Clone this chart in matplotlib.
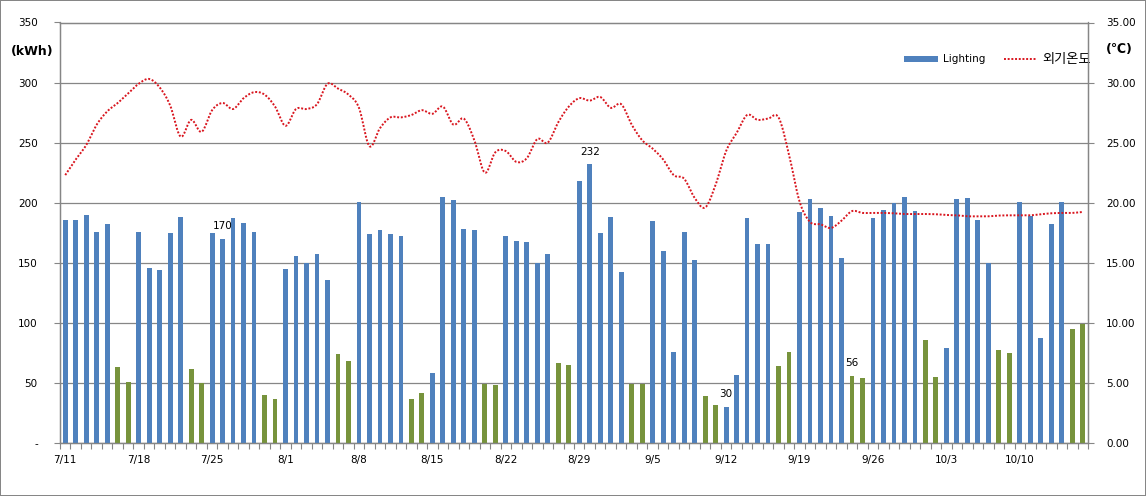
import numpy as np
import pandas as pd
import matplotlib.pyplot as plt
from matplotlib.patches import Patch
from matplotlib.lines import Line2D

# daily data 2011-07-11 .. 2011-10-16
dates = pd.date_range('2011-07-11', '2011-10-16', freq='D')

lighting = [
    186, 186, 190, 176, 182, 63, 51,    # 7/11-7/17
    176, 146, 144, 175, 188, 62, 50,    # 7/18-7/24
    175, 170, 187, 183, 176, 40, 37,    # 7/25-7/31
    145, 156, 150, 157, 136, 74, 68,    # 8/1-8/7
    201, 174, 177, 174, 172, 37, 42,    # 8/8-8/14
    58, 205, 202, 178, 177, 49, 48,     # 8/15-8/21
    172, 168, 167, 150, 157, 67, 65,    # 8/22-8/28
    218, 232, 175, 188, 142, 49, 49,    # 8/29-9/4
    185, 160, 76, 176, 152, 39, 32,     # 9/5-9/11
    30, 57, 187, 166, 166, 64, 76,      # 9/12-9/18
    192, 203, 196, 189, 154, 56, 54,    # 9/19-9/25
    187, 194, 200, 205, 193, 86, 55,    # 9/26-10/2
    79, 203, 204, 186, 150, 77, 75,     # 10/3-10/9
    201, 189, 87, 182, 201, 95, 99,     # 10/10-10/16
]

temp = [
    22.3, 23.6, 24.8, 26.5, 27.6, 28.3, 29.1, 29.9, 30.3, 29.6, 28.1, 25.5, 26.9, 25.9,
    27.7, 28.3, 27.8, 28.7, 29.2, 29.0, 28.0, 26.4, 27.8, 27.8, 28.2, 29.9, 29.5, 29.0,
    27.9, 24.7, 26.2, 27.1, 27.1, 27.3, 27.7, 27.4, 28.0, 26.5, 27.0, 25.2, 22.5, 24.2,
    24.3, 23.4, 23.7, 25.3, 25.0, 26.7, 28.0, 28.7, 28.5, 28.8, 27.9, 28.2, 26.5, 25.2,
    24.5, 23.6, 22.3, 22.0, 20.4, 19.6, 21.5, 24.3, 25.8, 27.3, 26.9, 27.0, 27.1, 24.0,
    20.1, 18.4, 18.2, 17.9, 18.5, 19.3, 19.15, 19.15, 19.15, 19.12, 19.06, 19.06, 19.06,
    19.04, 18.98, 18.95, 18.87, 18.87, 18.87, 18.93, 18.95, 18.95, 18.95, 19.04, 19.12,
    19.15, 19.15, 19.23,
]

labelled = ['2011-07-26', '2011-08-30', '2011-09-12', '2011-09-24']

left_ticks = [0, 50, 100, 150, 200, 250, 300, 350]
left_ticklabels = ['-', '50', '100', '150', '200', '250', '300', '350']
right_ticks = [0, 5, 10, 15, 20, 25, 30, 35]

blue = '#4F81BD'
green = '#77933C'
red = '#D9161F'
grid_col = '#868686'


def smooth(x, y, n=12):
    # Excel style smoothed line (bezier through points)
    x = np.asarray(x, float)
    y = np.asarray(y, float)
    px = np.concatenate([[x[0]], x, [x[-1]]])
    py = np.concatenate([[y[0]], y, [y[-1]]])
    t = np.linspace(0, 1, n, endpoint=False)[:, None]
    out_x, out_y = [], []
    for i in range(len(x) - 1):
        for p, out in ((px, out_x), (py, out_y)):
            p0, p1, p2, p3 = p[i], p[i + 1], p[i + 2], p[i + 3]
            c1 = p1 + (p2 - p0) / 6
            c2 = p2 - (p3 - p1) / 6
            b = ((1 - t) ** 3 * p1 + 3 * (1 - t) ** 2 * t * c1
                 + 3 * (1 - t) * t ** 2 * c2 + t ** 3 * p2)
            out.extend(b.ravel())
    out_x.append(x[-1])
    out_y.append(y[-1])
    return np.array(out_x), np.array(out_y)


plt.rcParams['font.family'] = ['DejaVu Sans', 'Noto Sans CJK KR']
plt.rcParams['font.size'] = 7.5

fig = plt.figure(figsize=(11.46, 4.96), dpi=100)
fig.patch.set_edgecolor(grid_col)
fig.patch.set_linewidth(1.2)
ax = fig.add_axes([60 / 1146, 1 - 443 / 496, 1028 / 1146, 420.5 / 496])
ax2 = ax.twinx()

x = np.arange(len(dates))
colors = [green if d.weekday() >= 5 else blue for d in dates]
ax.bar(x, lighting, width=0.46, color=colors, zorder=3)

for d in labelled:
    i = dates.get_loc(pd.Timestamp(d))
    ax.annotate(str(lighting[i]), (x[i], lighting[i]), xytext=(0, 9),
                textcoords='offset points', ha='center', va='center',
                fontsize=7.5, zorder=5)

sx, sy = smooth(x, temp)
ax2.plot(sx, sy, color=red, linewidth=1.4, linestyle=(0, (1, 0.9)), zorder=4)

ax.set_xlim(-0.5, len(x) - 0.5)
ax.set_ylim(0, 350)
ax2.set_ylim(0, 35)

ax.set_yticks(left_ticks)
ax.set_yticklabels(left_ticklabels)
ax2.set_yticks(right_ticks)
ax2.set_yticklabels(['%.2f' % v for v in right_ticks])

# category boundaries as tick marks, date labels every week
ax.set_xticks(np.arange(len(x) + 1) - 0.5)
ax.set_xticklabels([])
week = x[::7]
ax.set_xticks(week, [f'{dates[i].month}/{dates[i].day}' for i in week], minor=True)
ax.tick_params(axis='x', which='major', length=4, color=grid_col, direction='out')
ax.tick_params(axis='x', which='minor', length=0, pad=9)
ax.tick_params(axis='y', length=4, color=grid_col, pad=12)
ax2.tick_params(axis='y', length=4, color=grid_col, pad=9)

ax.grid(axis='y', color=grid_col, linewidth=0.9, zorder=0)
ax.set_axisbelow(True)
for a in (ax, ax2):
    for s in ('left', 'right', 'bottom', 'top'):
        a.spines[s].set_color(grid_col)
        a.spines[s].set_linewidth(0.9)

fig.text(32 / 1146, 1 - 52 / 496, '(kWh)', ha='center', va='center',
         fontsize=9, fontweight='bold')
fig.text(1119 / 1146, 1 - 50 / 496, '(\u2103)', ha='center', va='center',
         fontsize=9, fontweight='bold')

handles = [Patch(facecolor=blue, edgecolor='none'),
           Line2D([], [], color=red, linewidth=1.4, linestyle=(0, (1, 0.9)))]
leg = ax.legend(handles, ['Lighting', '외기온도'], ncol=2, frameon=False,
                loc='center right', bbox_to_anchor=(1091 / 1146, 1 - 59 / 496),
                bbox_transform=fig.transFigure, borderpad=0, borderaxespad=0,
                handlelength=3.2, handleheight=0.6, handletextpad=0.5,
                columnspacing=1.8, fontsize=7.5)
leg.get_texts()[1].set_fontsize(9.5)

fig.savefig('out.png', dpi=100)
